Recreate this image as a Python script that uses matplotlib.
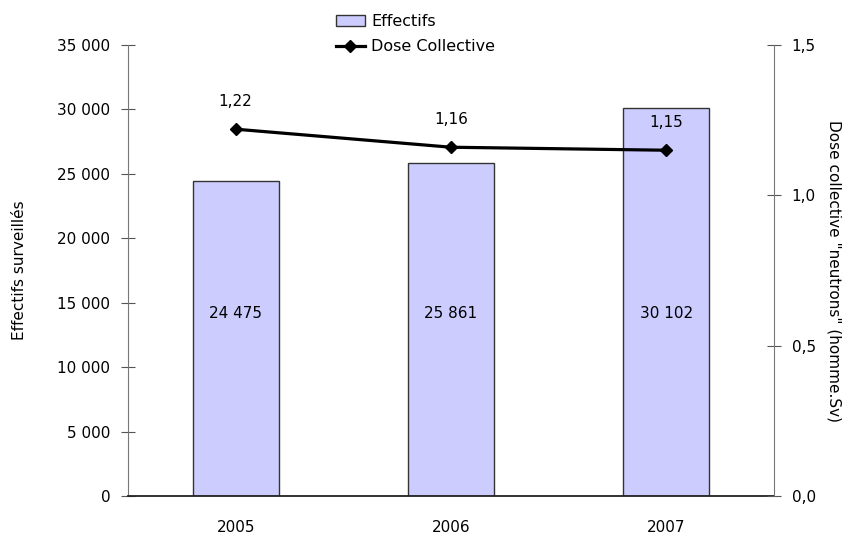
import matplotlib
matplotlib.use("Agg")
import matplotlib.pyplot as plt
from matplotlib.lines import Line2D
from matplotlib.patches import Patch
import numpy as np

plt.rcParams['font.family'] = 'DejaVu Sans'
plt.rcParams['font.size'] = 11

annees = ['2005', '2006', '2007']
effectifs = [24475, 25861, 30102]
dose = [1.22, 1.16, 1.15]


def fr_int(v):
    return '{:,}'.format(int(v)).replace(',', ' ')


def fr_dec(v, nd):
    return '{:.{}f}'.format(v, nd).replace('.', ',')


fig = plt.figure(figsize=(8.58, 5.33), dpi=100)
ax = fig.add_axes([128/858, 1 - 496/533, 646/858, 451/533])
x = np.arange(len(annees))

# barres des effectifs, valeur écrite dans la barre
ax.bar(x, effectifs, width=0.4, color='#CCCCFF', edgecolor='#333333', linewidth=1, zorder=2)
for xi, v in zip(x, effectifs):
    ax.text(xi, 14150, fr_int(v), ha='center', va='center', fontsize=11, zorder=3)

ax.set_xlim(-0.5, 2.5)
ax.set_ylim(0, 35000)
yt = np.arange(0, 35001, 5000)
ax.set_yticks(yt)
ax.set_yticklabels([fr_int(t) for t in yt])
ax.set_xticks(x)
ax.set_xticklabels(annees)
ax.tick_params(axis='x', length=0, pad=17)
ax.tick_params(axis='y', direction='inout', length=9.5, color='#555555', pad=8)
ax.set_ylabel('Effectifs surveillés', labelpad=22)
for s in ['top', 'right']:
    ax.spines[s].set_visible(False)
ax.spines['left'].set_color('#777777')
ax.spines['bottom'].set_color('#222222')
ax.spines['bottom'].set_linewidth(1.3)

# dose collective sur l'axe de droite
ax2 = ax.twinx()
ax2.plot(x, dose, color='black', linewidth=2.3, marker='D', markersize=6.5, zorder=4)
for xi, v in zip(x, dose):
    ax2.annotate(fr_dec(v, 2), (xi, v), xytext=(0, 20), textcoords='offset points',
                 ha='center', va='center', fontsize=11)
ax2.set_ylim(0, 1.5)
dt = [0, 0.5, 1.0, 1.5]
ax2.set_yticks(dt)
ax2.set_yticklabels([fr_dec(t, 1) for t in dt])
ax2.tick_params(axis='y', direction='inout', length=9.5, color='#555555', pad=8)
ax2.set_ylabel('Dose collective "neutrons" (homme.Sv)', rotation=-90, va='bottom', labelpad=8)
for s in ['top', 'left', 'bottom']:
    ax2.spines[s].set_visible(False)
ax2.spines['right'].set_color('#777777')

handles = [Patch(facecolor='#CCCCFF', edgecolor='#333333', linewidth=1),
           Line2D([0], [0], color='black', linewidth=2.3, marker='D', markersize=6)]
fig.legend(handles, ['Effectifs', 'Dose Collective'], loc='upper left',
           bbox_to_anchor=(336/858, 1 - 14/533), frameon=False, borderpad=0,
           handlelength=1.8, handletextpad=0.4, labelspacing=0.65, borderaxespad=0,
           fontsize=11.5)

fig.savefig('out.png', dpi=100)
